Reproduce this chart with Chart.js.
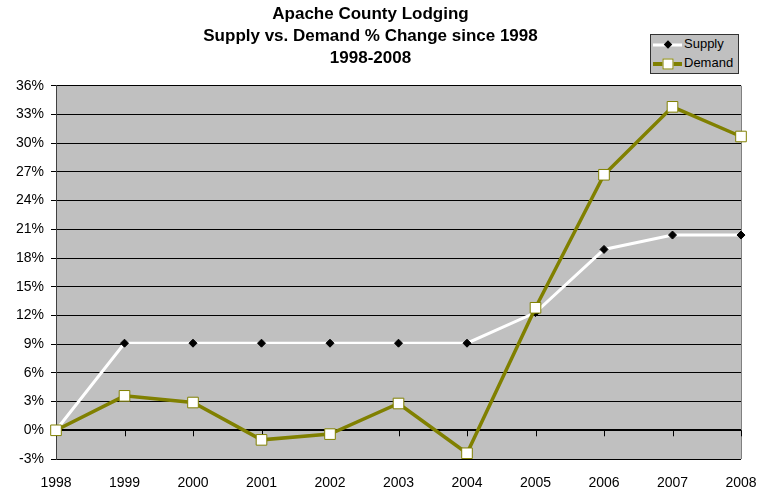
<!DOCTYPE html>
<html>
<head>
<meta charset="utf-8">
<script src="https://cdn.jsdelivr.net/npm/chart.js@4"></script>
<style>
  body { margin: 0; background: #fff; }
  #wrap { position: relative; width: 772px; height: 494px; }
  #legend {
    position: absolute; left: 650px; top: 34px; width: 87px; height: 38px;
    background: #c0c0c0; border: 1px solid #333;
    font: 13px 'Liberation Sans', Arial, sans-serif; color: #000;
  }
  .row { position: relative; height: 19px; }
  .row .line { position: absolute; left: 2px; width: 29px; top: 50%; transform: translateY(-50%); }
  .row .mark { position: absolute; left: 50%; top: 50%; transform: translate(-50%, -50%); }
  .row span.label { position: absolute; left: 33px; top: 1px; }
</style>
</head>
<body>
<div id="wrap">
  <canvas id="chart" width="772" height="494"></canvas>
  <div id="legend">
    <div class="row">
      <div class="line" style="height:3px;background:#fff">
        <div class="mark" style="width:6px;height:6px;background:#000;transform:translate(-50%,-50%) rotate(45deg)"></div>
      </div>
      <span class="label">Supply</span>
    </div>
    <div class="row">
      <div class="line" style="height:4px;background:#808000">
        <div class="mark" style="width:9px;height:9px;background:#fff;border:1px solid #808000"></div>
      </div>
      <span class="label">Demand</span>
    </div>
  </div>
</div>
<script>
const years = ['1998', '1999', '2000', '2001', '2002', '2003', '2004', '2005', '2006', '2007', '2008'];
const supply = [0, 9.1, 9.1, 9.1, 9.1, 9.1, 9.1, 12.3, 18.9, 20.4, 20.4];
const demand = [0, 3.6, 2.9, -1.0, -0.4, 2.8, -2.4, 12.8, 26.7, 33.8, 30.7];
const titleLines = ['Apache County Lodging', 'Supply vs. Demand % Change since 1998', '1998-2008'];
const yMin = -3;
const yMax = 36;
const yStep = 3;

const FONT = "'Liberation Sans', Arial, sans-serif";

// gray plot background, plot frame and the little x ticks on the 0% line
const plotDecor = {
  id: 'plotDecor',
  beforeDraw(chart) {
    const { ctx, chartArea: a } = chart;
    ctx.save();
    ctx.fillStyle = '#c0c0c0';
    ctx.fillRect(a.left, a.top, a.right - a.left, a.bottom - a.top);
    ctx.strokeStyle = '#808080';
    ctx.lineWidth = 1;
    ctx.beginPath();
    ctx.moveTo(a.right + 0.5, a.top);
    ctx.lineTo(a.right + 0.5, a.bottom);
    ctx.stroke();
    ctx.restore();
  },
  beforeDatasetsDraw(chart) {
    const { ctx, scales } = chart;
    const y0 = scales.y.getPixelForValue(0);
    ctx.save();
    ctx.strokeStyle = '#000';
    ctx.lineWidth = 1;
    ctx.beginPath();
    years.forEach((_, i) => {
      const x = Math.round(scales.x.getPixelForValue(i)) + 0.5;
      ctx.moveTo(x, y0);
      ctx.lineTo(x, y0 + 6);
    });
    ctx.stroke();
    ctx.restore();
  },
};

new Chart(document.getElementById('chart'), {
  type: 'line',
  data: {
    labels: years,
    datasets: [
      {
        label: 'Supply',
        data: supply,
        borderColor: '#ffffff',
        borderWidth: 3,
        pointStyle: 'rectRot',
        pointRadius: 4,
        pointBackgroundColor: '#000',
        pointBorderColor: '#000',
        pointBorderWidth: 1,
        order: 1,
      },
      {
        label: 'Demand',
        data: demand,
        borderColor: '#808000',
        borderWidth: 3.5,
        pointStyle: 'rect',
        pointRadius: 7.5,
        pointBackgroundColor: '#ffffff',
        pointBorderColor: '#808000',
        pointBorderWidth: 1,
        order: 0,
      },
    ],
  },
  options: {
    responsive: false,
    animation: false,
    layout: { padding: { left: 0, right: 31, top: 0, bottom: 0 } },
    plugins: {
      legend: { display: false },
      tooltip: { enabled: false },
      title: {
        display: true,
        text: titleLines,
        color: '#000',
        font: { family: FONT, size: 17, weight: 'bold', lineHeight: 1.27 },
        padding: { top: 4, bottom: 17 },
      },
    },
    scales: {
      x: {
        offset: false,
        grid: { display: false },
        border: { display: false },
        ticks: { color: '#000', padding: 8, maxRotation: 0, font: { family: FONT, size: 14 } },
        afterFit(scale) { scale.height = 35; },
      },
      y: {
        min: yMin,
        max: yMax,
        ticks: {
          stepSize: yStep,
          color: '#000',
          padding: 7,
          font: { family: FONT, size: 14 },
          callback: (v) => v + '%',
        },
        grid: {
          color: '#000',
          lineWidth: (ctx) => (ctx.tick && ctx.tick.value === 0 ? 2 : 1),
          tickLength: 5,
          tickColor: '#000',
        },
        border: { color: '#404040', width: 1 },
        afterFit(scale) { scale.width = 56; },
      },
    },
  },
  plugins: [plotDecor],
});
</script>
</body>
</html>
